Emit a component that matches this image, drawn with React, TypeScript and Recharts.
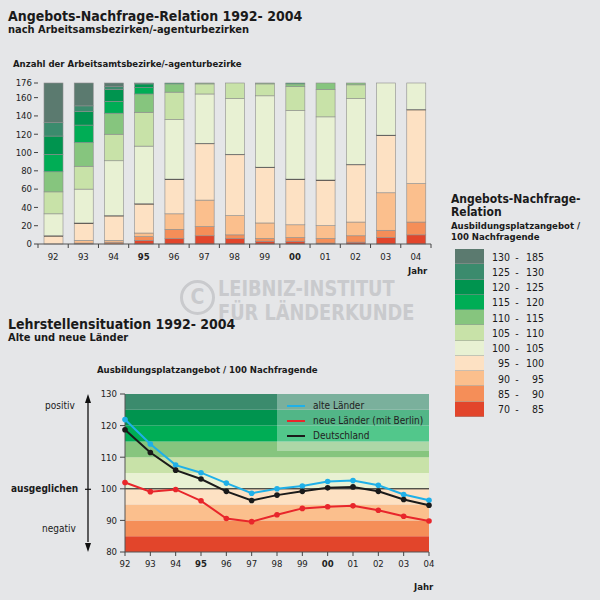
import React from 'react';
import { BarChart, Bar, XAxis, YAxis, LineChart, Line, ReferenceArea, ReferenceLine } from 'recharts';

const FONT = '"DejaVu Sans Condensed", "DejaVu Sans", sans-serif';

const years = ['92', '93', '94', '95', '96', '97', '98', '99', '00', '01', '02', '03', '04'];
const boldYears = ['95', '00'];

// Anzahl der Bezirke je Klasse (von unten nach oben gestapelt)
const k70_85 = [0, 0, 0, 4, 6, 9, 6, 3, 3, 1, 2, 7, 10];
const k85_90 = [0, 1, 2, 4, 10, 10, 4, 3, 4, 5, 7, 8, 14];
const k90_95 = [0, 3, 2, 4, 17, 29, 21, 17, 14, 14, 15, 41, 42];
const k95_100 = [9, 19, 27, 32, 38, 62, 67, 61, 50, 50, 63, 63, 81];
const k100_105 = [24, 37, 60, 63, 65, 54, 61, 78, 75, 69, 72, 57, 29];
const k105_110 = [24, 25, 29, 37, 30, 11, 17, 13, 26, 30, 15, 0, 0];
const k110_115 = [22, 26, 23, 20, 9, 1, 0, 1, 3, 7, 2, 0, 0];
const k115_120 = [19, 19, 13, 7, 1, 0, 0, 0, 1, 0, 0, 0, 0];
const k120_125 = [20, 15, 13, 4, 0, 0, 0, 0, 0, 0, 0, 0, 0];
const k125_130 = [15, 6, 3, 1, 0, 0, 0, 0, 0, 0, 0, 0, 0];
const k130_185 = [43, 25, 4, 0, 0, 0, 0, 0, 0, 0, 0, 0, 0];

const classLabels = [
  ['70', '85'], ['85', '90'], ['90', '95'], ['95', '100'], ['100', '105'], ['105', '110'],
  ['110', '115'], ['115', '120'], ['120', '125'], ['125', '130'], ['130', '185'],
];
const classColors = [
  '#e2452b', '#f58e58', '#fbbf8d', '#fde1c3', '#e8f1d3', '#c8e2a8',
  '#86c57e', '#00ad55', '#00944f', '#3b8b6d', '#5b7a6f',
];
const classValues = [k70_85, k85_90, k90_95, k95_100, k100_105, k105_110, k110_115, k115_120, k120_125, k125_130, k130_185];
const classBounds = [80, 85, 90, 95, 100, 105, 110, 115, 120, 125, 130];

// Ausbildungsplatzangebot je 100 Nachfragende
const alteLaender = [121.9, 114.2, 107.5, 105.1, 101.8, 98.6, 100.0, 100.9, 102.3, 102.6, 101.1, 98.2, 96.4];
const neueLaender = [102.0, 99.1, 99.8, 96.2, 90.6, 89.6, 91.8, 93.8, 94.3, 94.6, 93.2, 91.3, 89.8];
const deutschland = [118.7, 111.5, 105.9, 103.1, 99.2, 96.3, 98.0, 99.2, 100.3, 100.6, 99.2, 96.6, 94.8];

const barData = years.map((year, i) => {
  const row: Record<string, string | number> = { year };
  classValues.forEach((vals, c) => { row['k' + c] = vals[i]; });
  return row;
});

const lineData = years.map((year, i) => ({
  year,
  alte: alteLaender[i],
  neue: neueLaender[i],
  de: deutschland[i],
}));

const lineSeries = [
  { key: 'alte', name: 'alte Länder', color: '#1fb0e8' },
  { key: 'neue', name: 'neue Länder (mit Berlin)', color: '#e8262b' },
  { key: 'de', name: 'Deutschland', color: '#1a1a1a' },
];

const BAND = (431 - 38) / years.length;

const TopTick = (props: any) => {
  const { x, y, payload, index } = props;
  const y0 = y - 8;
  const bold = boldYears.includes(payload.value);
  return (
    <g>
      <line x1={x - BAND / 2} x2={x - BAND / 2} y1={y0} y2={y0 + 4} stroke="#444" />
      {index === years.length - 1 && (
        <line x1={x + BAND / 2} x2={x + BAND / 2} y1={y0} y2={y0 + 4} stroke="#444" />
      )}
      <text x={x} y={y + 1} dy="0.71em" textAnchor="middle" fontSize={9.5} fill="#222"
        fontWeight={bold ? 'bold' : 'normal'} fontFamily={FONT}>
        {payload.value}
      </text>
    </g>
  );
};

const BottomTick = (props: any) => {
  const { x, y, payload } = props;
  const bold = boldYears.includes(payload.value);
  return (
    <text x={x} y={y} dy="0.71em" textAnchor="middle" fontSize={9.5} fill="#222"
      fontWeight={bold ? 'bold' : 'normal'} fontFamily={FONT}>
      {payload.value}
    </text>
  );
};

// Segment 95-100 bekommt die schwarze Linie an der 100er-Grenze
const LineTopShape = (props: any) => {
  const { x, y, width, height, fill } = props;
  if (!height) return <g />;
  return (
    <g>
      <rect x={x} y={y} width={width} height={height} fill={fill} stroke="#8d8d8d" strokeWidth={0.6} />
      <line x1={x} x2={x + width} y1={y} y2={y} stroke="#111" strokeWidth={1.4} />
    </g>
  );
};

const PlainShape = (props: any) => {
  const { x, y, width, height, fill } = props;
  if (!height) return <g />;
  return <rect x={x} y={y} width={width} height={height} fill={fill} stroke="#8d8d8d" strokeWidth={0.6} />;
};

const abs = (left: number, top: number, extra: React.CSSProperties = {}): React.CSSProperties => ({
  position: 'absolute', left, top, whiteSpace: 'nowrap', ...extra,
});

const watermark: React.CSSProperties = {
  fontSize: 21, fontWeight: 'bold', color: '#c9cacd', lineHeight: '24px',
  transform: 'scaleX(0.94)', transformOrigin: 'left top',
};

const legendTitle: React.CSSProperties = { fontSize: 12, fontWeight: 'bold', lineHeight: '13px' };
const legendSub: React.CSSProperties = { fontSize: 9.5, fontWeight: 'bold', lineHeight: '11px' };

export default function App() {
  return (
    <div style={{ position: 'fixed', left: 0, top: 0, width: 600, height: 600, background: '#e5e6e8', fontFamily: FONT, color: '#1a1a1a', overflow: 'hidden' }}>
      <div style={abs(8, 8, { fontSize: 14, fontWeight: 'bold', lineHeight: '16px' })}>Angebots-Nachfrage-Relation 1992- 2004</div>
      <div style={abs(8, 23, { fontSize: 11, fontWeight: 'bold', lineHeight: '13px' })}>nach Arbeitsamsbezirken/-agenturbezirken</div>
      <div style={abs(13, 58, { fontSize: 9.5, fontWeight: 'bold', lineHeight: '12px' })}>Anzahl der Arbeitsamtsbezirke/-agenturbezirke</div>

      {/* Wasserzeichen */}
      <div style={abs(180, 280, { width: 35, height: 35, borderRadius: '50%', border: '3px solid #c9cacd', boxSizing: 'border-box', color: '#c9cacd', fontSize: 21, fontWeight: 'bold', textAlign: 'center', lineHeight: '29px' })}>C</div>
      <div style={abs(218, 277, watermark)}>LEIBNIZ-INSTITUT</div>
      <div style={abs(218, 301, watermark)}>FÜR LÄNDERKUNDE</div>

      <div style={abs(0, 70)}>
        <BarChart width={600} height={204} data={barData} margin={{ top: 13, right: 169, left: 8, bottom: 0 }} barSize={19}>
          <XAxis dataKey="year" height={30} tickSize={6} tickMargin={2} tickLine={false}
            axisLine={{ stroke: '#555' }} tick={<TopTick />} interval={0} />
          <YAxis type="number" domain={[0, 176]} ticks={[0, 20, 40, 60, 80, 100, 120, 140, 160, 176]}
            width={30} tickSize={4} tickMargin={2} axisLine={false} tickLine={{ stroke: '#444' }}
            tick={{ fontSize: 9.5, fill: '#222', fontFamily: FONT }} interval={0} />
          {classColors.map((color, c) => (
            <Bar key={c} dataKey={'k' + c} stackId="a" fill={color} isAnimationActive={false}
              shape={c === 3 ? <LineTopShape /> : <PlainShape />} />
          ))}
        </BarChart>
      </div>
      <div style={abs(408, 265, { fontSize: 9.5, fontWeight: 'bold', lineHeight: '11px' })}>Jahr</div>

      {/* Legende Klassen */}
      <div style={abs(451, 193, legendTitle)}>Angebots-Nachfrage-</div>
      <div style={abs(451, 206, legendTitle)}>Relation</div>
      <div style={abs(451, 220, legendSub)}>Ausbildungsplatzangebot /</div>
      <div style={abs(451, 231, legendSub)}>100 Nachfragende</div>
      <div style={abs(455, 249)}>
        {classLabels.map((_, i) => {
          const c = classLabels.length - 1 - i;
          return (
            <div key={c} style={{ display: 'flex', alignItems: 'center', height: 15.25 }}>
              <div style={{ width: 29, height: 15.25, background: classColors[c], boxShadow: 'inset 0 -0.5px 0 #9a9a9a' }} />
              <div style={{ width: 26, textAlign: 'right', fontSize: 10.5 }}>{classLabels[c][0]}</div>
              <div style={{ width: 14, textAlign: 'center', fontSize: 10.5 }}>-</div>
              <div style={{ width: 20, textAlign: 'right', fontSize: 10.5 }}>{classLabels[c][1]}</div>
            </div>
          );
        })}
      </div>

      <div style={abs(8, 316, { fontSize: 14, fontWeight: 'bold', lineHeight: '16px' })}>Lehrstellensituation 1992- 2004</div>
      <div style={abs(8, 332, { fontSize: 11, fontWeight: 'bold', lineHeight: '12px' })}>Alte und neue Länder</div>
      <div style={abs(97, 364, { fontSize: 9.5, fontWeight: 'bold', lineHeight: '12px' })}>Ausbildungsplatzangebot / 100 Nachfragende</div>

      <div style={abs(45, 400, { fontSize: 10 })}>positiv</div>
      <div style={abs(11, 483, { fontSize: 10, fontWeight: 'bold' })}>ausgeglichen</div>
      <div style={abs(42, 523, { fontSize: 10 })}>negativ</div>
      <svg style={abs(80, 390)} width={16} height={166}>
        <line x1={8} x2={8} y1={10} y2={152} stroke="#111" strokeWidth={1.3} />
        <polygon points="8,4 5,13 11,13" fill="#111" />
        <polygon points="8,162 5,153 11,153" fill="#111" />
        <line x1={5} x2={11} y1={99.3} y2={99.3} stroke="#111" strokeWidth={1.2} />
      </svg>

      <div style={abs(90, 384)}>
        <LineChart width={349} height={193} data={lineData} margin={{ top: 10, right: 10, left: 0, bottom: 0 }}>
          {classBounds.slice(0, -1).map((b, i) => (
            <ReferenceArea key={b} y1={b} y2={classBounds[i + 1]} fill={classColors[i]}
              fillOpacity={1} stroke="none" ifOverflow="hidden" />
          ))}
          <ReferenceArea x1="98" x2="04" y1={112} y2={130} fill="#ffffff" fillOpacity={0.32} stroke="none" />
          <ReferenceLine y={100} stroke="#111" strokeWidth={1} />
          <XAxis dataKey="year" height={25} tickSize={4} tickMargin={4} axisLine={{ stroke: '#555' }}
            tickLine={{ stroke: '#444' }} tick={<BottomTick />} interval={0} />
          <YAxis type="number" domain={[80, 130]} ticks={[80, 90, 100, 110, 120, 130]} width={35}
            tickSize={5} tickMargin={3} axisLine={{ stroke: '#555' }} tickLine={{ stroke: '#444' }}
            tick={{ fontSize: 9.5, fill: '#222', fontFamily: FONT }} interval={0} />
          {lineSeries.map((s) => (
            <Line key={s.key} type="linear" dataKey={s.key} name={s.name} stroke={s.color} strokeWidth={2}
              dot={{ r: 2.8, fill: s.color, stroke: s.color, strokeWidth: 0 }} isAnimationActive={false} />
          ))}
        </LineChart>
      </div>
      <div style={abs(287, 398)}>
        {lineSeries.map((s) => (
          <div key={s.key} style={{ display: 'flex', alignItems: 'center', height: 15 }}>
            <div style={{ width: 18, height: 2, background: s.color, marginRight: 8 }} />
            <div style={{ fontSize: 10, color: '#222' }}>{s.name}</div>
          </div>
        ))}
      </div>
      <div style={abs(414, 581, { fontSize: 9.5, fontWeight: 'bold' })}>Jahr</div>
    </div>
  );
}
